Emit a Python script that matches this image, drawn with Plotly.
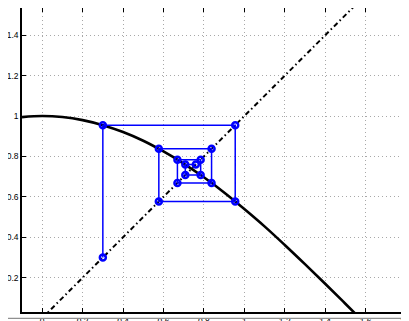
import plotly.graph_objects as go

# cos(x) curve
curve_x = [-0.1, 0.0, 0.1, 0.2, 0.3, 0.4, 0.5, 0.6, 0.7, 0.8, 0.9, 1.0,
           1.1, 1.2, 1.3, 1.4, 1.5, 1.6]
curve_y = [0.995, 1.0, 0.995, 0.980, 0.955, 0.921, 0.878, 0.825, 0.765, 0.697,
           0.622, 0.540, 0.454, 0.362, 0.267, 0.170, 0.071, -0.029]

# diagonal y = x
diag_x = [0.0, 1.6]
diag_y = [0.0, 1.6]

# cobweb vertices
web_x = [0.3, 0.3, 0.955, 0.955, 0.577, 0.577, 0.838, 0.838, 0.669, 0.669,
         0.784, 0.784, 0.708, 0.708, 0.760]
web_y = [0.3, 0.955, 0.955, 0.577, 0.577, 0.838, 0.838, 0.669, 0.669, 0.784,
         0.784, 0.708, 0.708, 0.760, 0.760]

x_ticks = [0, 0.2, 0.4, 0.6, 0.8, 1, 1.2, 1.4, 1.6, 1.8]
y_ticks = [0.2, 0.4, 0.6, 0.8, 1, 1.2, 1.4]


def main():
    fig = go.Figure()

    fig.add_trace(go.Scatter(
        x=diag_x, y=diag_y, mode="lines",
        line=dict(color="black", width=2, dash="5px,3px,1.5px,3px"),
    ))
    fig.add_trace(go.Scatter(
        x=curve_x, y=curve_y, mode="lines", line_shape="spline",
        line=dict(color="black", width=2.6),
    ))
    fig.add_trace(go.Scatter(
        x=web_x, y=web_y, mode="lines+markers",
        line=dict(color="#0000ff", width=1.5),
        marker=dict(symbol="circle-open", size=6, color="#0000ff",
                    line=dict(width=2.5, color="#0000ff")),
    ))

    axis_style = dict(
        showline=True, linecolor="black", linewidth=1.5, mirror="ticks",
        ticks="inside", ticklen=4, tickcolor="black", automargin=False,
        showgrid=True, gridcolor="#a8a8a8", griddash="1px,3px", gridwidth=1,
        zeroline=False, tickfont=dict(family="Liberation Sans", size=8.5, color="black"),
    )
    fig.update_xaxes(range=[-0.1, 1.8], tickvals=x_ticks,
                     ticktext=[str(v) for v in x_ticks], **axis_style)
    fig.update_yaxes(range=[0.03, 1.535], tickvals=y_ticks,
                     ticktext=[str(v) for v in y_ticks], **axis_style)

    # grey window edge at the bottom
    fig.add_shape(type="line", xref="paper", yref="paper",
                  x0=-0.06, x1=1.01, y0=-0.021, y1=-0.021,
                  line=dict(color="#909090", width=1.2))

    # the page body adds 8px on the left and top, so margins are offset
    fig.update_layout(
        width=409, height=321,
        margin=dict(l=14, r=11, t=0, b=17),
        showlegend=False,
        plot_bgcolor="white", paper_bgcolor="white",
    )
    fig.write_html("out.html")


if __name__ == "__main__":
    main()
